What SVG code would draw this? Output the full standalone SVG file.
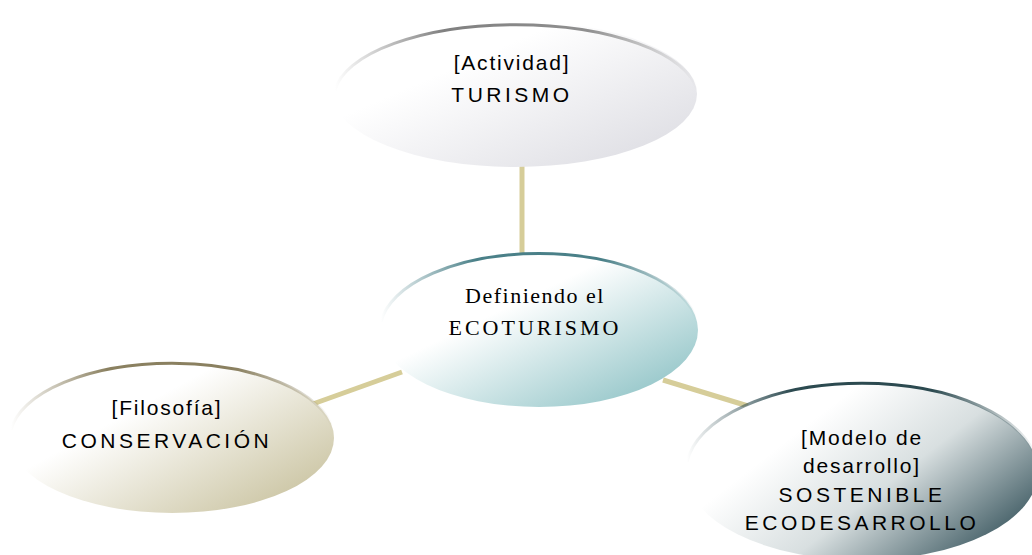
<svg xmlns="http://www.w3.org/2000/svg" width="1032" height="555" viewBox="0 0 1032 555">
<defs>
<style>
.sans{font-family:"Liberation Sans",Arial,sans-serif;font-size:21px;letter-spacing:3.5px;fill:#000;text-anchor:middle}
.lo{letter-spacing:1.8px}
.serif{font-family:"Liberation Serif","Times New Roman",serif;font-size:22px;letter-spacing:3px;fill:#000;text-anchor:middle}
.slo{letter-spacing:1.5px}
.conn{stroke:#d6cd99;stroke-width:5;fill:none}
</style>
<linearGradient id="gTop" x1="0.35" y1="0.3" x2="1" y2="0.9"><stop offset="0" stop-color="#ffffff"/><stop offset="1" stop-color="#dcdce2"/></linearGradient>
<linearGradient id="gCen" x1="0.4" y1="0.35" x2="0.95" y2="0.9"><stop offset="0" stop-color="#ffffff"/><stop offset="1" stop-color="#8fc3c6"/></linearGradient>
<linearGradient id="gLeft" x1="0.35" y1="0.35" x2="1" y2="0.9"><stop offset="0" stop-color="#ffffff"/><stop offset="1" stop-color="#c6bf9a"/></linearGradient>
<linearGradient id="gRight" x1="0.3" y1="0.3" x2="1" y2="0.75"><stop offset="0" stop-color="#ffffff"/><stop offset="0.45" stop-color="#d8dfe0"/><stop offset="1" stop-color="#3e5a62"/></linearGradient>
<linearGradient id="sTop" x1="0" y1="0" x2="1" y2="0"><stop offset="0" stop-color="#808080" stop-opacity="0"/><stop offset="0.3" stop-color="#808080"/><stop offset="0.7" stop-color="#909090"/><stop offset="1" stop-color="#909090" stop-opacity="0"/></linearGradient>
<linearGradient id="sCen" x1="0" y1="0" x2="1" y2="0"><stop offset="0" stop-color="#4a8088" stop-opacity="0"/><stop offset="0.3" stop-color="#4a8088"/><stop offset="0.7" stop-color="#4a8088"/><stop offset="1" stop-color="#4a8088" stop-opacity="0"/></linearGradient>
<linearGradient id="sLeft" x1="0" y1="0" x2="1" y2="0"><stop offset="0" stop-color="#8a8060" stop-opacity="0"/><stop offset="0.3" stop-color="#8a8060"/><stop offset="0.7" stop-color="#8a8060"/><stop offset="1" stop-color="#8a8060" stop-opacity="0"/></linearGradient>
<linearGradient id="sRight" x1="0" y1="0" x2="1" y2="0"><stop offset="0" stop-color="#2c4a50" stop-opacity="0"/><stop offset="0.3" stop-color="#2c4a50"/><stop offset="0.7" stop-color="#2c4a50"/><stop offset="1" stop-color="#2c4a50" stop-opacity="0"/></linearGradient>
</defs>
<rect width="1032" height="555" fill="#ffffff"/>
<g id="connectors">
<line class="conn" x1="522" y1="165" x2="522" y2="254"/>
<line class="conn" x1="310" y1="405" x2="402" y2="372"/>
<line class="conn" x1="663" y1="380" x2="748" y2="406"/>
</g>
<g id="node-turismo">
<ellipse cx="515" cy="94" rx="182" ry="73" fill="url(#gTop)"/>
<path d="M335,90 A182,73 0 0 1 697,90" stroke="url(#sTop)" stroke-width="3" fill="none"/>
<text class="sans lo" x="512" y="70">[Actividad]</text>
<text class="sans" x="512" y="102">TURISMO</text>
</g>
<g id="node-ecoturismo">
<ellipse cx="539" cy="330" rx="159" ry="77" fill="url(#gCen)"/>
<path d="M381,322 A159,77 0 0 1 697,322" stroke="url(#sCen)" stroke-width="3" fill="none"/>
<text class="serif slo" x="535" y="303">Definiendo el</text>
<text class="serif" x="535" y="335">ECOTURISMO</text>
</g>
<g id="node-conservacion">
<ellipse cx="172" cy="438" rx="162" ry="75" fill="url(#gLeft)"/>
<path d="M11,430 A162,75 0 0 1 333,430" stroke="url(#sLeft)" stroke-width="3" fill="none"/>
<text class="sans lo" x="167" y="415">[Filosofía]</text>
<text class="sans" x="167" y="448">CONSERVACIÓN</text>
</g>
<g id="node-sostenible">
<ellipse cx="862" cy="472" rx="176" ry="88" fill="url(#gRight)"/>
<path d="M687,462 A176,88 0 0 1 1037,462" stroke="url(#sRight)" stroke-width="3" fill="none"/>
<text class="sans lo" x="862" y="445">[Modelo de</text>
<text class="sans lo" x="862" y="473">desarrollo]</text>
<text class="sans" x="862" y="502">SOSTENIBLE</text>
<text class="sans" x="862" y="530">ECODESARROLLO</text>
</g>
</svg>
